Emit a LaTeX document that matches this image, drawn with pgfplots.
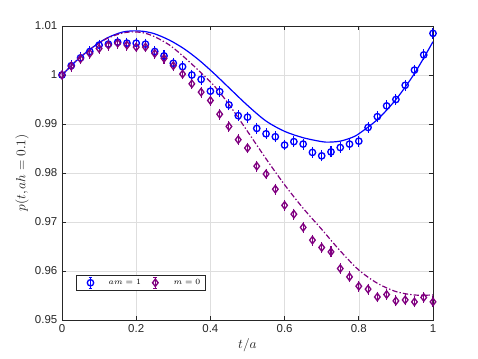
\documentclass[border=0pt]{standalone}
\usepackage{fontspec}
\setsansfont{Liberation Sans}
\usepackage{pgfplots}
\pgfplotsset{compat=1.18}
\usetikzlibrary{calc}

\definecolor{mblue}{RGB}{0,0,255}
\definecolor{mpurple}{RGB}{128,0,128}
\definecolor{axgray}{RGB}{38,38,38}

% legend icon: marker with a vertical error bar and caps
\pgfplotsset{
  errleg/.style={
    legend image code/.code={
      \path[draw=none, fill=none] (0cm,0cm) -- (0.72cm,0cm);
      \draw[##1, line width=0.8pt] (0.31cm,-0.15cm) -- (0.31cm,0.15cm);
      \draw[##1, line width=0.8pt] (0.26cm,-0.15cm) -- (0.36cm,-0.15cm);
      \draw[##1, line width=0.8pt] (0.26cm,0.15cm) -- (0.36cm,0.15cm);
      \draw[##1] plot coordinates {(0.31cm,0cm)};
    }
  }
}

% lattice data, am = 1
\pgfplotstableread{
t     p
0.000 1.0000
0.025 1.0019
0.050 1.0035
0.075 1.0048
0.100 1.0061
0.125 1.0063
0.150 1.0067
0.175 1.0065
0.200 1.0065
0.225 1.0063
0.250 1.0048
0.275 1.0039
0.300 1.0024
0.325 1.0017
0.350 1.0000
0.375 0.9991
0.400 0.9967
0.425 0.9966
0.450 0.9939
0.475 0.9917
0.500 0.9914
0.525 0.9891
0.550 0.9880
0.575 0.9874
0.600 0.9857
0.625 0.9864
0.650 0.9859
0.675 0.9842
0.700 0.9835
0.725 0.9843
0.750 0.9852
0.775 0.9859
0.800 0.9865
0.825 0.9893
0.850 0.9915
0.875 0.9937
0.900 0.9950
0.925 0.9979
0.950 1.0010
0.975 1.0041
1.000 1.0085
}\datamone

% lattice data, m = 0
\pgfplotstableread{
t     p
0.000 1.0000
0.025 1.0018
0.050 1.0033
0.075 1.0044
0.100 1.0054
0.125 1.0061
0.150 1.0065
0.175 1.0061
0.200 1.0057
0.225 1.0057
0.250 1.0044
0.275 1.0034
0.300 1.0019
0.325 1.0002
0.350 0.9982
0.375 0.9965
0.400 0.9948
0.425 0.9920
0.450 0.9895
0.475 0.9868
0.500 0.9851
0.525 0.9814
0.550 0.9798
0.575 0.9767
0.600 0.9734
0.625 0.9716
0.650 0.9689
0.675 0.9663
0.700 0.9648
0.725 0.9639
0.750 0.9605
0.775 0.9588
0.800 0.9569
0.825 0.9563
0.850 0.9547
0.875 0.9552
0.900 0.9539
0.925 0.9541
0.950 0.9537
0.975 0.9546
1.000 0.9537
}\datamzero

% continuum curves
\pgfplotstableread{
t    p
0.00 1.0000
0.04 1.0030
0.08 1.0055
0.12 1.0075
0.16 1.0087
0.19 1.0090
0.22 1.0089
0.25 1.0084
0.29 1.0071
0.33 1.0053
0.37 1.0030
0.41 1.0003
0.45 0.9974
0.50 0.9938
0.55 0.9906
0.60 0.9885
0.65 0.9872
0.70 0.9864
0.72 0.9863
0.75 0.9865
0.78 0.9872
0.80 0.9880
0.85 0.9909
0.90 0.9950
0.95 1.0003
1.00 1.0068
}\curvemone

\pgfplotstableread{
t    p
0.00 1.0000
0.04 1.0030
0.08 1.0055
0.12 1.0074
0.16 1.0085
0.19 1.0088
0.22 1.0086
0.25 1.0078
0.29 1.0061
0.33 1.0036
0.37 1.0008
0.41 0.9978
0.45 0.9940
0.50 0.9885
0.55 0.9829
0.60 0.9776
0.65 0.9728
0.70 0.9685
0.75 0.9641
0.80 0.9602
0.85 0.9575
0.90 0.9558
0.95 0.9551
1.00 0.9551
}\curvemzero

\begin{document}
\begin{tikzpicture}
\begin{axis}[
  scale only axis,
  width=278.25pt, height=220.5pt,
  xmin=0, xmax=1, ymin=0.95, ymax=1.01,
  xtick={0,0.2,0.4,0.6,0.8,1},
  xticklabels={0,0.2,0.4,0.6,0.8,1},
  ytick={0.95,0.96,0.97,0.98,0.99,1,1.01},
  yticklabels={0.95,0.96,0.97,0.98,0.99,1,1.01},
  grid=major,
  major grid style={black!13, line width=0.4pt},
  axis line style={axgray, line width=0.5pt},
  tick style={axgray, line width=0.5pt},
  major tick length=2.8pt,
  /pgf/number format/assume math mode=true,
  tick label style={font=\sffamily\fontsize{8.6}{10}\selectfont, text=axgray},
  xlabel={$t/a$},
  ylabel={$p(t,ah=0.1)$},
  label style={font=\fontsize{10}{12}\selectfont, text=axgray},
  xlabel style={at={(axis description cs:0.5,-0.085)}, anchor=center},
  ylabel style={at={(axis description cs:-0.108,0.5)}, anchor=center},
  legend columns=2,
  legend cell align=left,
  legend style={at={(axis description cs:0.037,0.0997)}, anchor=south west,
    font=\fontsize{5.8}{7}\selectfont, draw=axgray, line width=0.5pt,
    inner xsep=2pt, inner ysep=1pt,
    /tikz/every even column/.append style={column sep=0pt}},
]
\addplot[mblue, only marks, mark=o, mark size=2.4pt, line width=1pt, errleg,
  error bars/.cd, y dir=both, y fixed=0.0007,
  error bar style={line width=0.8pt},
  error mark options={mark size=1.5pt, line width=0.8pt},
  ]
  table[x=t, y=p] {\datamone};
\addlegendentry{$am=1$}
\addplot[mpurple, only marks, mark=diamond, mark size=2.8pt, line width=1pt, errleg,
  error bars/.cd, y dir=both, y fixed=0.0007,
  error bar style={line width=0.8pt},
  error mark options={mark size=1.5pt, line width=0.8pt},
  ]
  table[x=t, y=p] {\datamzero};
\addlegendentry{$m=0$}
\addplot[mblue, line width=0.9pt, smooth, forget plot] table[x=t, y=p] {\curvemone};
\addplot[mpurple, line width=0.9pt, smooth, forget plot,
  dash pattern=on 4pt off 1.6pt on 1pt off 1.6pt] table[x=t, y=p] {\curvemzero};
\end{axis}
\path[use as bounding box]
  ($(current axis.south west)+(-46.5pt,-29.25pt)$) rectangle
  ($(current axis.north east)+(33.75pt,19.5pt)$);
\end{tikzpicture}
\end{document}
